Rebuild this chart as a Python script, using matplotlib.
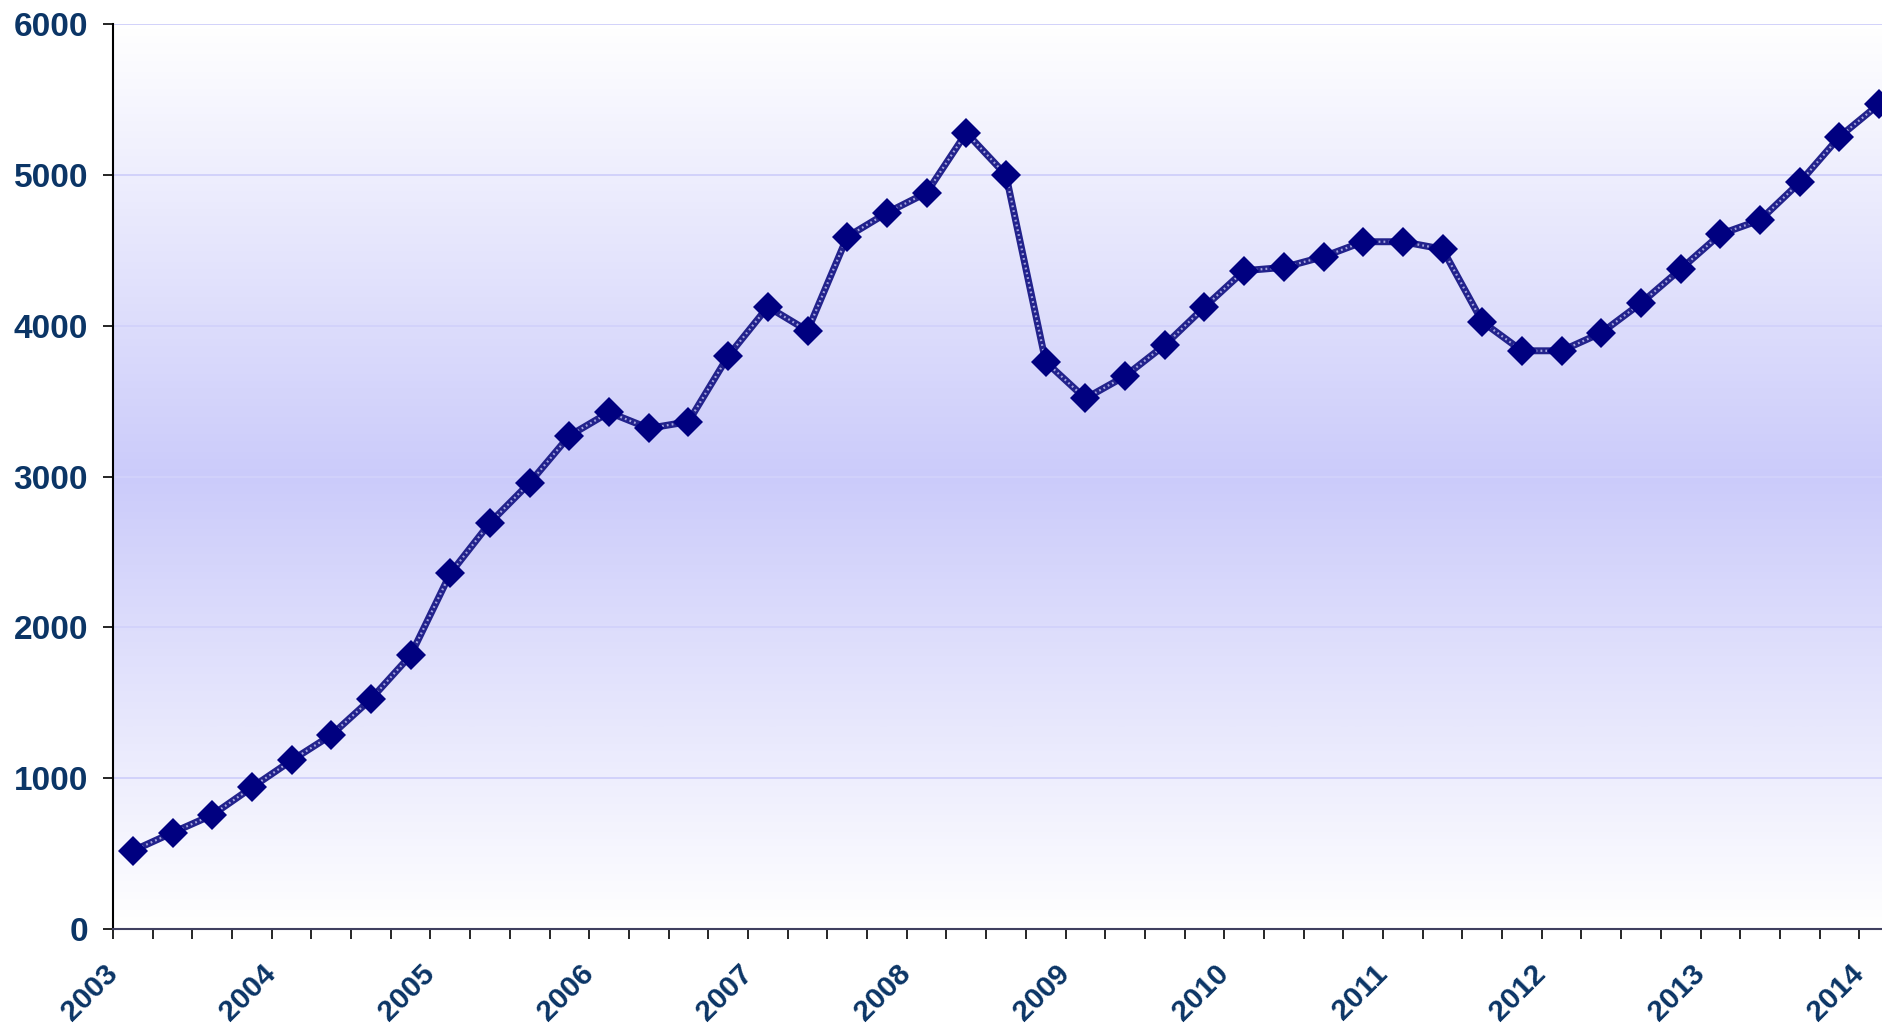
import numpy as np
import matplotlib
matplotlib.use("Agg")
import matplotlib.pyplot as plt
from matplotlib.colors import LinearSegmentedColormap

# quarterly values, Q1 2003 .. Q1 2014
values = [519, 639, 756, 939, 1118, 1286, 1525, 1815,
          2358, 2694, 2959, 3271, 3426, 3320, 3364, 3799,
          4126, 3967, 4590, 4749, 4882, 5280, 4999, 3761,
          3518, 3666, 3872, 4124, 4365, 4387, 4458, 4557,
          4557, 4508, 4027, 3834, 3834, 3953, 4150, 4376,
          4607, 4701, 4951, 5253, 5470]
years = [str(y) for y in range(2003, 2015)]
y_ticks = [0, 1000, 2000, 3000, 4000, 5000, 6000]

text_color = "#0B3566"
navy = "#000080"

fig = plt.figure(figsize=(18.83, 10.26), dpi=100)
ax = fig.add_axes([0.060, 0.0945, 0.9485, 0.882])

n = len(values)
x = np.arange(n)
ax.set_xlim(-0.5, n - 0.5)
ax.set_ylim(0, 6000)

# background gradient: white -> lavender -> white
cmap = LinearSegmentedColormap.from_list(
    "bg", ["#FFFFFF", "#CBCBFA", "#FFFFFF"])
grad = np.linspace(0, 1, 256).reshape(-1, 1)
ax.imshow(grad, cmap=cmap, aspect="auto", extent=[-0.5, n - 0.5, 0, 6000],
          zorder=0, interpolation="bilinear")

for yt in y_ticks[1:]:
    ax.axhline(yt, color="#D2D2FA", lw=1.4, zorder=1)

# patterned line look: dark base with light dotted overlay
ax.plot(x, values, color="#22228C", lw=5.0, zorder=2, solid_capstyle="round")
ax.plot(x, values, color="#A4A4DE", lw=1.6, zorder=3, dashes=(0.8, 1.4))
ax.plot(x, values, linestyle="none", marker="D", ms=15, color=navy,
        markeredgewidth=0, zorder=4)

# axes styling
for s in ["top", "right"]:
    ax.spines[s].set_visible(False)
ax.spines["left"].set_color("black")
ax.spines["left"].set_linewidth(1.5)
ax.spines["bottom"].set_color("#404060")
ax.spines["bottom"].set_linewidth(1.5)

ax.set_yticks(y_ticks)
ax.set_yticklabels([str(v) for v in y_ticks])
ax.tick_params(axis="y", direction="out", length=7, width=1.2, pad=11,
               colors="black")

xt = np.arange(-0.5, n, 1.0)
ax.set_xticks(xt)
xlabels = []
for k in range(len(xt)):
    xlabels.append(years[k // 4] if k % 4 == 0 else "")
ax.set_xticklabels(xlabels, rotation=45, ha="right", va="center",
                   rotation_mode="anchor")
ax.tick_params(axis="x", direction="out", length=7, width=1.2, pad=22,
               colors="black")

for lab in ax.get_yticklabels():
    lab.set_fontfamily("Liberation Sans")
    lab.set_fontweight("bold")
    lab.set_fontsize(24)
    lab.set_color(text_color)
for lab in ax.get_xticklabels():
    lab.set_fontfamily("Liberation Sans")
    lab.set_fontweight("bold")
    lab.set_fontsize(21.5)
    lab.set_color(text_color)

fig.savefig("out.png", dpi=100)
